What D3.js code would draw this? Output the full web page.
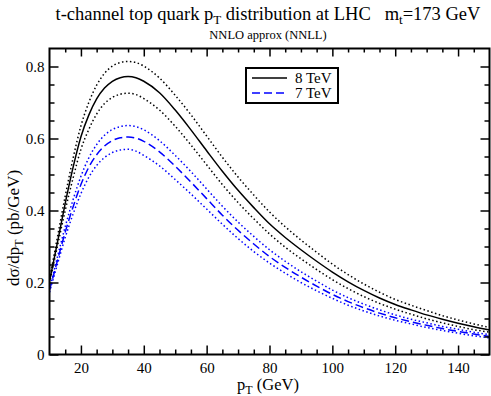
<!DOCTYPE html>
<html>
<head>
<meta charset="utf-8">
<script src="https://cdn.jsdelivr.net/npm/d3@7"></script>
<style>
  body { margin: 0; background: #fff; }
  text { font-family: "Liberation Serif", "Times New Roman", serif; font-weight: normal; fill: #000; }
</style>
</head>
<body>
<div id="chart"></div>
<script>
// pT grid (GeV) and curves
const pt = [10, 12.5, 15, 17.5, 20, 22.5, 25, 27.5, 30, 32.5, 35, 37.5, 40, 45, 50, 55, 60, 65, 70, 75,
            80, 85, 90, 95, 100, 105, 110, 115, 120, 125, 130, 135, 140, 145, 150];

const central8 = [0.203, 0.31, 0.42, 0.52, 0.605, 0.665, 0.710, 0.740, 0.759, 0.769, 0.772, 0.769, 0.759, 0.727, 0.679, 0.624, 0.566, 0.509, 0.456, 0.408,
                  0.363, 0.325, 0.291, 0.259, 0.229, 0.202, 0.178, 0.157, 0.139, 0.124, 0.110, 0.098, 0.087, 0.077, 0.068];
const upper8 = [0.208, 0.325, 0.44, 0.545, 0.635, 0.700, 0.748, 0.781, 0.801, 0.811, 0.814, 0.811, 0.801, 0.768, 0.720, 0.666, 0.607, 0.548, 0.493, 0.443,
                0.396, 0.355, 0.318, 0.284, 0.251, 0.222, 0.196, 0.173, 0.153, 0.137, 0.122, 0.108, 0.096, 0.085, 0.075];
const lower8 = [0.198, 0.30, 0.40, 0.49, 0.57, 0.625, 0.668, 0.697, 0.714, 0.723, 0.726, 0.722, 0.711, 0.679, 0.634, 0.582, 0.527, 0.472, 0.422, 0.377,
                0.335, 0.298, 0.266, 0.236, 0.208, 0.183, 0.161, 0.142, 0.126, 0.112, 0.099, 0.088, 0.078, 0.069, 0.062];

const central7 = [0.178, 0.26, 0.34, 0.41, 0.472, 0.520, 0.555, 0.579, 0.594, 0.602, 0.604, 0.601, 0.592, 0.563, 0.523, 0.479, 0.433, 0.387, 0.345, 0.307,
                  0.272, 0.242, 0.215, 0.190, 0.167, 0.147, 0.130, 0.115, 0.102, 0.091, 0.081, 0.072, 0.064, 0.057, 0.050];
const upper7 = [0.182, 0.27, 0.355, 0.43, 0.495, 0.546, 0.583, 0.609, 0.625, 0.633, 0.636, 0.633, 0.624, 0.594, 0.553, 0.508, 0.460, 0.412, 0.368, 0.328,
                0.291, 0.259, 0.230, 0.204, 0.179, 0.158, 0.140, 0.124, 0.110, 0.098, 0.088, 0.078, 0.070, 0.062, 0.055];
const lower7 = [0.173, 0.25, 0.325, 0.39, 0.447, 0.492, 0.525, 0.547, 0.561, 0.568, 0.570, 0.565, 0.553, 0.524, 0.486, 0.446, 0.404, 0.362, 0.322, 0.286,
                0.254, 0.226, 0.200, 0.177, 0.156, 0.137, 0.121, 0.107, 0.095, 0.085, 0.075, 0.067, 0.059, 0.052, 0.046];

const xTicks = [20, 40, 60, 80, 100, 120, 140];
const yTicks = [0, 0.2, 0.4, 0.6, 0.8];

const W = 491, H = 396;
const plotL = 49.5, plotR = 489.5, plotT = 48.5, plotB = 354.5;
const serif = "'Liberation Serif', 'Times New Roman', serif";

const svg = d3.select("#chart").append("svg")
  .attr("width", W)
  .attr("height", H);

const x = d3.scaleLinear().domain([10, 150]).range([plotL, plotR]);
const y = d3.scaleLinear().domain([0, 0.85]).range([plotB, plotT]);

// titles
const title = svg.append("text")
  .attr("x", 268)
  .attr("y", 20)
  .attr("text-anchor", "middle")
  .attr("font-size", "18.5px")
  .style("white-space", "pre");
title.append("tspan").text("t-channel top quark p");
title.append("tspan").attr("font-size", "13px").attr("dy", 4).text("T");
title.append("tspan").attr("dy", -4).text(" distribution at LHC   m");
title.append("tspan").attr("font-size", "13px").attr("dy", 4).text("t");
title.append("tspan").attr("dy", -4).text("=173 GeV");

svg.append("text")
  .attr("x", 268)
  .attr("y", 39)
  .attr("text-anchor", "middle")
  .attr("font-size", "12.5px")
  .text("NNLO approx (NNLL)");

// curves
const line = d3.line()
  .x((d, i) => x(pt[i]))
  .y(d => y(d))
  .curve(d3.curveMonotoneX);

const series = [
  { values: upper8, color: "#000", dash: "1.5,2.5", width: 1.5 },
  { values: lower8, color: "#000", dash: "1.5,2.5", width: 1.5 },
  { values: upper7, color: "#0000ff", dash: "1.5,2.5", width: 1.5 },
  { values: lower7, color: "#0000ff", dash: "1.5,2.5", width: 1.5 },
  { values: central7, color: "#0000ff", dash: "8,4", width: 1.5 },
  { values: central8, color: "#000", dash: null, width: 1.5 }
];

const plot = svg.append("g");
plot.append("clipPath").attr("id", "clip")
  .append("rect")
  .attr("x", plotL).attr("y", plotT)
  .attr("width", plotR - plotL).attr("height", plotB - plotT);

plot.selectAll("path.curve")
  .data(series)
  .join("path")
  .attr("class", "curve")
  .attr("clip-path", "url(#clip)")
  .attr("fill", "none")
  .attr("stroke", d => d.color)
  .attr("stroke-width", d => d.width)
  .attr("stroke-dasharray", d => d.dash)
  .attr("d", d => line(d.values));

// axes with inward ticks on all sides
const xMinor = d3.range(15, 150, 5).filter(v => v % 20 !== 0);
const yMinor = d3.range(0.05, 0.85, 0.05).filter(v => Math.abs(v * 5 - Math.round(v * 5)) > 0.01);

svg.append("g").attr("transform", `translate(0,${plotB})`)
  .call(d3.axisBottom(x).tickValues(xTicks).tickSize(-9).tickPadding(8).tickFormat(d3.format("d")));
svg.append("g").attr("transform", `translate(0,${plotB})`)
  .call(d3.axisBottom(x).tickValues(xMinor).tickSize(-5).tickFormat(""));
svg.append("g").attr("transform", `translate(0,${plotT})`)
  .call(d3.axisTop(x).tickValues(xTicks).tickSize(-8).tickFormat(""));
svg.append("g").attr("transform", `translate(0,${plotT})`)
  .call(d3.axisTop(x).tickValues(xMinor).tickSize(-4).tickFormat(""));

svg.append("g").attr("transform", `translate(${plotL},0)`)
  .call(d3.axisLeft(y).tickValues(yTicks).tickSize(-9).tickPadding(5)
    .tickFormat(d => d === 0 ? "0" : d3.format(".1f")(d)));
svg.append("g").attr("transform", `translate(${plotL},0)`)
  .call(d3.axisLeft(y).tickValues(yMinor).tickSize(-5).tickFormat(""));
svg.append("g").attr("transform", `translate(${plotR},0)`)
  .call(d3.axisRight(y).tickValues(yTicks).tickSize(-9).tickFormat(""));
svg.append("g").attr("transform", `translate(${plotR},0)`)
  .call(d3.axisRight(y).tickValues(yMinor).tickSize(-5).tickFormat(""));

svg.selectAll(".domain").remove();
svg.selectAll(".tick line").attr("stroke", "#000").attr("stroke-width", 1.5);
svg.selectAll(".tick text")
  .style("font-family", serif)
  .style("font-weight", "normal")
  .attr("font-size", "15px")
  .attr("fill", "#000");

// frame
svg.append("rect")
  .attr("x", plotL).attr("y", plotT)
  .attr("width", plotR - plotL).attr("height", plotB - plotT)
  .attr("fill", "none")
  .attr("stroke", "#000")
  .attr("stroke-width", 2);

// axis labels
const xl = svg.append("text")
  .attr("x", 268)
  .attr("y", 390)
  .attr("text-anchor", "middle")
  .attr("font-size", "16.5px");
xl.append("tspan").text("p");
xl.append("tspan").attr("font-size", "12px").attr("dy", 4).text("T");
xl.append("tspan").attr("dy", -4).text(" (GeV)");

const yl = svg.append("text")
  .attr("transform", "translate(19,228) rotate(-90)")
  .attr("text-anchor", "middle")
  .attr("font-size", "17px");
yl.append("tspan").text("dσ/dp");
yl.append("tspan").attr("font-size", "12px").attr("dy", 4).text("T");
yl.append("tspan").attr("dy", -4).text(" (pb/GeV)");

// legend
const legendItems = [
  { label: "8 TeV", color: "#000", dash: null },
  { label: "7 TeV", color: "#0000ff", dash: "8,4" }
];
const lg = svg.append("g");
lg.append("rect")
  .attr("x", 246).attr("y", 68)
  .attr("width", 92).attr("height", 35)
  .attr("fill", "#fff")
  .attr("stroke", "#000")
  .attr("stroke-width", 2);
const item = lg.selectAll("g.item")
  .data(legendItems)
  .join("g")
  .attr("class", "item")
  .attr("transform", (d, i) => `translate(252,${78 + i * 15})`);
item.append("line")
  .attr("x1", 0).attr("x2", 35)
  .attr("stroke", d => d.color)
  .attr("stroke-width", 1.5)
  .attr("stroke-dasharray", d => d.dash);
item.append("text")
  .attr("x", 43)
  .attr("y", 5)
  .attr("font-size", "15px")
  .text(d => d.label);
</script>
</body>
</html>
